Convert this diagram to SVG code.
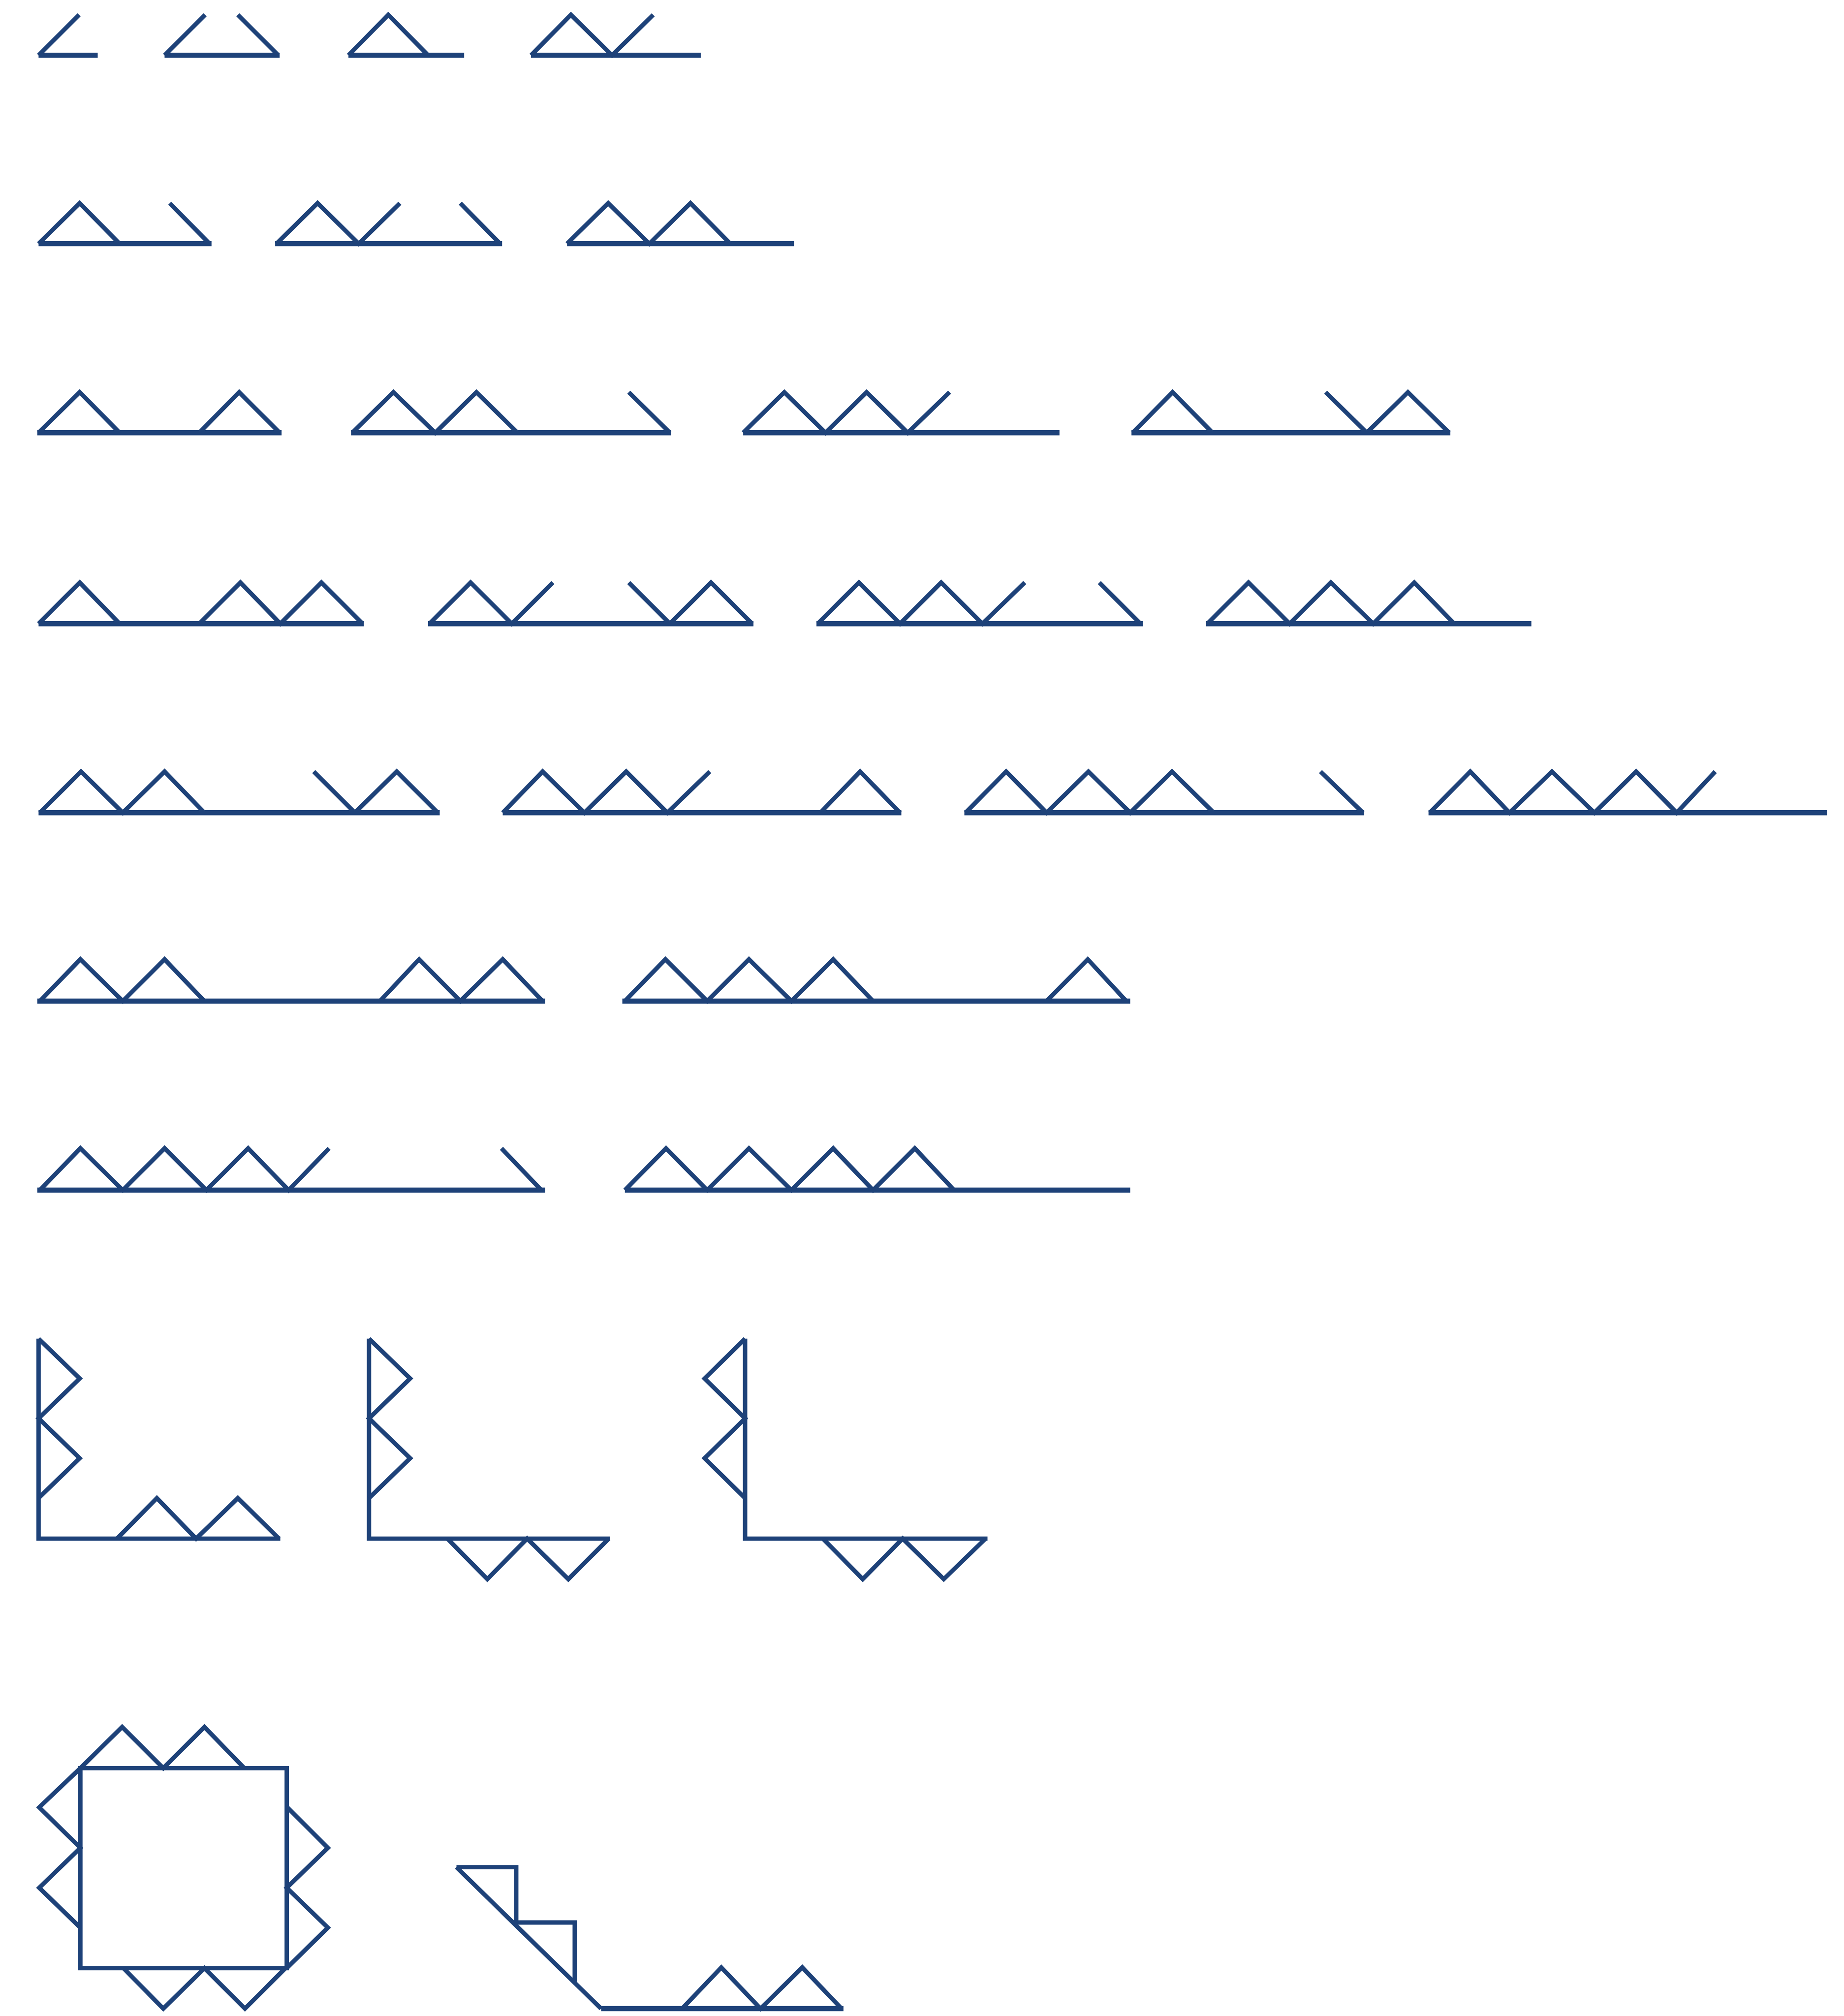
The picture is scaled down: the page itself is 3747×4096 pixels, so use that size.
<svg xmlns="http://www.w3.org/2000/svg" width="3747" height="4096" viewBox="0 0 3747 4096">
<style>
.s{fill:none;stroke:#1e4279;stroke-width:3.4;stroke-linejoin:miter;stroke-linecap:butt}
.b{fill:none;stroke:#1e4279;stroke-width:4;stroke-linecap:butt}
</style>
<rect width="3747" height="4096" fill="#ffffff"/>
<g transform="scale(2.6127)">
<g id="r1a"><polyline class="s" points="30,43 61.5,11.5"/><line class="b" x1="30" y1="43" x2="76" y2="43"/></g>
<g id="r1b"><line class="s" x1="128" y1="43" x2="159.5" y2="11.5"/><line class="s" x1="185" y1="11.5" x2="216.5" y2="43"/><line class="b" x1="128" y1="43" x2="217.5" y2="43"/></g>
<g id="r1c"><polyline class="s" points="271,43 302,11.5 333,43"/><line class="b" x1="271" y1="43" x2="361" y2="43"/></g>
<g id="r1d"><polyline class="s" points="413,43 444,11.5 476,43 508,11.5"/><line class="b" x1="413" y1="43" x2="545" y2="43"/></g>

<g id="r2a"><polyline class="s" points="30,189.5 62,158 93,189.5"/><line class="s" x1="132" y1="158" x2="163" y2="189.5"/><line class="b" x1="30" y1="189.5" x2="164.5" y2="189.5"/></g>
<g id="r2b"><polyline class="s" points="215,189.5 247,158 279,189.5 311,158"/><line class="s" x1="358" y1="158" x2="389" y2="189.5"/><line class="b" x1="214" y1="189.5" x2="390.5" y2="189.5"/></g>
<g id="r2c"><polyline class="s" points="441,189.5 473,158 505,189.5 537,158 568,189.5"/><line class="b" x1="441" y1="189.5" x2="617.5" y2="189.5"/></g>

<g id="r3a"><polyline class="s" points="30,336.5 62,305 93,336.5"/><polyline class="s" points="155,336.5 186,305 217.5,336.5"/><line class="b" x1="29" y1="336.5" x2="219" y2="336.5"/></g>
<g id="r3b"><polyline class="s" points="274,336.5 306,305 338.5,336.5 370.5,305 402.5,336.5"/><line class="s" x1="489" y1="305" x2="521" y2="336.5"/><line class="b" x1="273" y1="336.5" x2="522" y2="336.5"/></g>
<g id="r3c"><polyline class="s" points="578,336.5 610,305 642,336.5 674,305 706,336.5 738.5,305"/><line class="b" x1="578" y1="336.5" x2="824" y2="336.5"/></g>
<g id="r3d"><polyline class="s" points="881,336.5 912,305 943,336.5"/><line class="s" x1="1031" y1="305" x2="1063" y2="336.5"/><polyline class="s" points="1063,336.5 1095,305 1127,336.5"/><line class="b" x1="880" y1="336.5" x2="1128" y2="336.5"/></g>

<g id="r4a"><polyline class="s" points="30,485 62,453 93,485"/><polyline class="s" points="155,485 187,453 218,485 250,453 282,485"/><line class="b" x1="30" y1="485" x2="283" y2="485"/></g>
<g id="r4b"><polyline class="s" points="334,485 366,453 398,485 430,453"/><line class="s" x1="489" y1="453" x2="521" y2="485"/><polyline class="s" points="521,485 553,453 585,485"/><line class="b" x1="333" y1="485" x2="586" y2="485"/></g>
<g id="r4c"><polyline class="s" points="636,485 668,453 700,485 732,453 764,485 797,453"/><line class="s" x1="855" y1="453" x2="887" y2="485"/><line class="b" x1="635" y1="485" x2="889" y2="485"/></g>
<g id="r4d"><polyline class="s" points="939,485 971,453 1003,485 1035,453 1068,485 1100,453 1131,485"/><line class="b" x1="938" y1="485" x2="1191" y2="485"/></g>

<g id="r5a"><polyline class="s" points="31,632 63,600 95.5,632 128,600 159,632"/><line class="s" x1="244" y1="600" x2="276" y2="632"/><polyline class="s" points="276,632 308.5,600 340.5,632"/><line class="b" x1="30" y1="632" x2="342" y2="632"/></g>
<g id="r5b"><polyline class="s" points="391,632 422,600 454.5,632 487,600 519,632 552,600"/><polyline class="s" points="638,632 669,600 700,632"/><line class="b" x1="391" y1="632" x2="701" y2="632"/></g>
<g id="r5c"><polyline class="s" points="751,632 782.5,600 814,632 846.5,600 879,632 911.5,600 944,632"/><line class="s" x1="1027" y1="600" x2="1060" y2="632"/><line class="b" x1="750" y1="632" x2="1061" y2="632"/></g>
<g id="r5d"><polyline class="s" points="1112,632 1143.5,600 1174,632 1207,600 1240,632 1272.5,600 1304,632 1334,600"/><line class="b" x1="1111" y1="632" x2="1421" y2="632"/></g>

<g id="r6a"><polyline class="s" points="31,778.5 62.5,746 95.5,778.5 128,746 159,778.5"/><polyline class="s" points="295.5,778.5 326,746 358,778.5 391,746 422,778.5"/><line class="b" x1="29" y1="778.5" x2="424" y2="778.5"/></g>
<g id="r6b"><polyline class="s" points="486,778.5 517.5,746 550,778.5 582.5,746 615.5,778.5 648,746 679,778.5"/><polyline class="s" points="814,778.5 846,746 876,778.5"/><line class="b" x1="484" y1="778.5" x2="879" y2="778.5"/></g>

<g id="r7a"><polyline class="s" points="31,925.5 62.5,893 95.5,925.5 128,893 160.5,925.5 193,893 224.5,925.5 256,893"/><line class="s" x1="390" y1="893" x2="421" y2="925.5"/><line class="b" x1="29" y1="925.5" x2="424" y2="925.5"/></g>
<g id="r7b"><polyline class="s" points="486,925.5 518,893 550,925.5 582.5,893 615.5,925.5 648,893 679,925.5 711.5,893 742,925.5"/><line class="b" x1="486" y1="925.5" x2="879" y2="925.5"/></g>

<g id="L1"><polyline class="s" points="30,1041 30,1196.5 218,1196.5"/><polyline class="s" points="30,1041 62,1072 30,1103 62,1134 30,1165"/><polyline class="s" points="91,1196.5 122,1165 152.5,1196.5 185,1165 217,1196.5"/></g>
<g id="L2"><polyline class="s" points="287,1041 287,1196.5 474.5,1196.5"/><polyline class="s" points="287,1041 319,1072 287,1103 319,1134 287,1165"/><polyline class="s" points="348,1196.5 379,1228 410,1196.5 442,1228 473.5,1196.5"/></g>
<g id="L3"><polyline class="s" points="579.5,1041 579.5,1196.5 768,1196.5"/><polyline class="s" points="579.5,1041 548,1072 579.5,1103 548,1134 579.5,1165"/><polyline class="s" points="640,1196.5 671,1228 702,1196.5 734,1228 766.5,1196.5"/></g>

<g id="square"><rect class="s" x="62.5" y="1375" width="160.5" height="155.5"/><polyline class="s" points="62.5,1375 95,1343 127,1375 159,1343 190,1375"/><polyline class="s" points="62.5,1375 30.5,1405.5 62.5,1437 30.5,1468 62.5,1499"/><polyline class="s" points="223,1405 255,1437 223,1468 255,1499 223,1530.5"/><polyline class="s" points="96,1530.5 127,1562 159,1530.5 190.5,1562 222,1530.5"/></g>
<g id="stair"><polyline class="s" points="355,1452 401.5,1452 401.5,1495 447,1495 447,1541"/><line class="s" x1="355" y1="1452" x2="467.5" y2="1562"/><line class="b" x1="467.5" y1="1562" x2="656" y2="1562"/><polyline class="s" points="530.5,1562 561,1530 591.5,1562 624,1530 654.5,1562"/></g>
</g>
</svg>
